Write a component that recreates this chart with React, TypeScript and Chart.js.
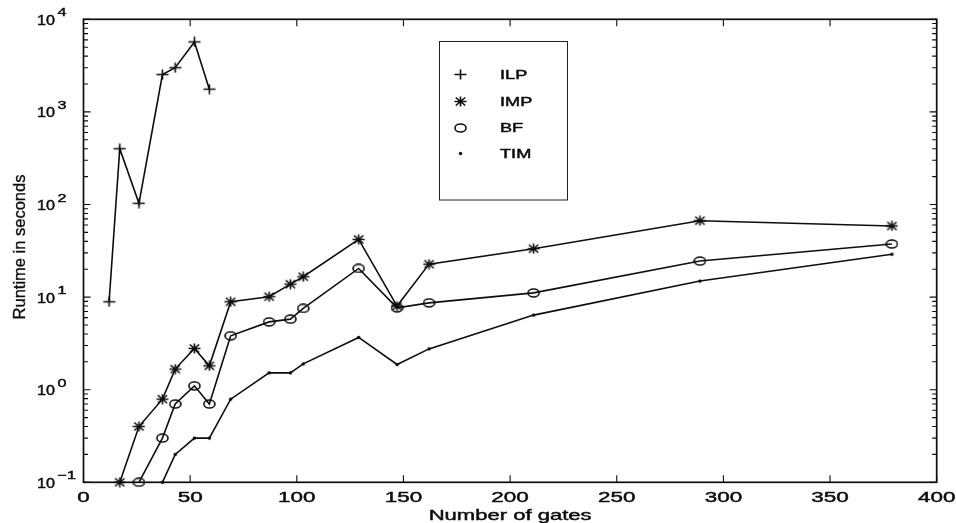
import React, { useEffect, useRef } from 'react';
import { Chart, registerables } from 'chart.js';

Chart.register(...registerables);

// ---- data ----
const ILP_GATES = [12, 17, 26, 37, 43, 52, 59];
const ILP_RUNTIME = [8.9, 400, 103, 2530, 3000, 5700, 1760];

const IMP_GATES = [17, 26, 37, 43, 52, 59, 69, 87, 97, 103, 129, 147, 162, 211, 289, 379];
const IMP_RUNTIME = [0.1, 0.4, 0.79, 1.67, 2.79, 1.81, 8.9, 10.1, 13.8, 16.6, 42, 8.0, 22.7, 33.3, 66.8, 58.6];

const BF_GATES = [26, 37, 43, 52, 59, 69, 87, 97, 103, 129, 147, 162, 211, 289, 379];
const BF_RUNTIME = [0.1, 0.3, 0.7, 1.1, 0.7, 3.82, 5.4, 5.78, 7.55, 20.4, 7.66, 8.67, 11.1, 24.5, 37.4];

const TIM_GATES = [37, 43, 52, 59, 69, 87, 97, 103, 129, 147, 162, 211, 289, 379];
const TIM_RUNTIME = [0.1, 0.2, 0.3, 0.3, 0.79, 1.52, 1.52, 1.9, 3.67, 1.87, 2.76, 6.39, 14.9, 29];

const SERIES_NAMES = ['ILP', 'IMP', 'BF', 'TIM'];
const X_TICKS = [0, 50, 100, 150, 200, 250, 300, 350, 400];
const Y_EXPONENTS = [-1, 0, 1, 2, 3, 4];
const X_TITLE = 'Number of gates';
const Y_TITLE = 'Runtime in seconds';

const INK = '#0d0d0d';
const FONT = '"Liberation Sans", Arial, Helvetica, sans-serif';

function makeMarker(kind: string): HTMLCanvasElement {
  const c = document.createElement('canvas');
  let w = 13, h = 11;
  if (kind === 'star') { w = 13; h = 11; }
  if (kind === 'ellipse') { w = 13; h = 10; }
  if (kind === 'dot') { w = 5; h = 5; }
  c.width = w; c.height = h;
  const g = c.getContext('2d') as CanvasRenderingContext2D;
  g.strokeStyle = INK; g.fillStyle = INK; g.lineWidth = 1.6;
  const cx = w / 2, cy = h / 2;
  g.beginPath();
  if (kind === 'cross' || kind === 'star') {
    g.moveTo(0.5, cy); g.lineTo(w - 0.5, cy);
    g.moveTo(cx, 0.5); g.lineTo(cx, h - 0.5);
    if (kind === 'star') {
      g.moveTo(1.8, 1.5); g.lineTo(w - 1.8, h - 1.5);
      g.moveTo(w - 1.8, 1.5); g.lineTo(1.8, h - 1.5);
    }
    g.stroke();
  } else if (kind === 'ellipse') {
    g.ellipse(cx, cy, w / 2 - 1, h / 2 - 1, 0, 0, Math.PI * 2);
    g.stroke();
  } else {
    g.arc(cx, cy, 1.7, 0, Math.PI * 2);
    g.fill();
  }
  return c;
}

function stretchText(ctx: CanvasRenderingContext2D, text: string, x: number, y: number, size: number, sx: number, align: CanvasTextAlign) {
  ctx.save();
  ctx.font = `${size}px ${FONT}`;
  ctx.translate(x, y);
  ctx.scale(sx, 1);
  ctx.textAlign = align;
  ctx.textBaseline = 'alphabetic';
  ctx.fillText(text, 0, 0);
  ctx.lineWidth = 0.45;
  ctx.strokeStyle = INK;
  ctx.strokeText(text, 0, 0);
  ctx.restore();
}

export default function App() {
  const ref = useRef<HTMLCanvasElement | null>(null);

  useEffect(() => {
    if (!ref.current) return;
    const markers = [makeMarker('cross'), makeMarker('star'), makeMarker('ellipse'), makeMarker('dot')];
    const xs = [ILP_GATES, IMP_GATES, BF_GATES, TIM_GATES];
    const ys = [ILP_RUNTIME, IMP_RUNTIME, BF_RUNTIME, TIM_RUNTIME];

    const datasets = SERIES_NAMES.map((name, i) => ({
      label: name,
      data: xs[i].map((x, j) => ({ x, y: ys[i][j] })),
      borderColor: INK,
      backgroundColor: INK,
      borderWidth: 1.6,
      pointStyle: markers[i] as any,
      pointRadius: 5,
      pointHoverRadius: 5,
      tension: 0,
      clip: false as any,
    }));

    const matlabAxes = {
      id: 'matlabAxes',
      afterDraw(chart: any) {
        const ctx: CanvasRenderingContext2D = chart.ctx;
        const { left, right, top, bottom } = chart.chartArea;
        const xS = chart.scales.x;
        const yS = chart.scales.y;
        ctx.save();
        ctx.strokeStyle = INK;
        ctx.fillStyle = INK;
        ctx.lineWidth = 1.7;
        ctx.strokeRect(left, top, right - left, bottom - top);
        ctx.lineWidth = 1.1;
        ctx.beginPath();
        for (const v of X_TICKS) {
          const px = xS.getPixelForValue(v);
          ctx.moveTo(px, bottom); ctx.lineTo(px, bottom - 7);
          ctx.moveTo(px, top); ctx.lineTo(px, top + 7);
        }
        for (const e of Y_EXPONENTS) {
          for (let m = 1; m <= 9; m++) {
            const v = m * Math.pow(10, e);
            if (v > yS.max * 1.0001) break;
            const py = yS.getPixelForValue(v);
            const len = m === 1 ? 7 : 4.5;
            ctx.moveTo(left, py); ctx.lineTo(left + len, py);
            ctx.moveTo(right, py); ctx.lineTo(right - len, py);
          }
        }
        ctx.stroke();

        // x tick labels
        for (const v of X_TICKS) {
          stretchText(ctx, String(v), xS.getPixelForValue(v), 501.5, 15.5, 1.45, 'center');
        }
        // y tick labels 10^e
        for (const e of Y_EXPONENTS) {
          const py = yS.getPixelForValue(Math.pow(10, e));
          stretchText(ctx, '10', 37, py + 5.4, 15, 1.08, 'left');
          const expText = e < 0 ? '\u2212' + String(-e) : String(e);
          stretchText(ctx, expText, 57.5, py - 3, 11.5, 1.4, 'left');
        }
        // axis titles
        stretchText(ctx, X_TITLE, (left + right) / 2, 519.5, 14.5, 1.52, 'center');
        ctx.save();
        ctx.translate(25, 247);
        ctx.rotate(-Math.PI / 2);
        ctx.font = `16.5px ${FONT}`;
        ctx.textAlign = 'center';
        ctx.textBaseline = 'alphabetic';
        ctx.fillText(Y_TITLE, 0, 0);
        ctx.lineWidth = 0.35;
        ctx.strokeText(Y_TITLE, 0, 0);
        ctx.restore();

        // legend
        ctx.lineWidth = 1;
        ctx.strokeStyle = '#222';
        ctx.strokeRect(439.5, 41.5, 128, 158.5);
        const rows = [74, 101.5, 127.5, 153.5];
        SERIES_NAMES.forEach((name, i) => {
          const mk = markers[i];
          ctx.drawImage(mk, Math.round(460 - mk.width / 2), Math.round(rows[i] - mk.height / 2));
          stretchText(ctx, name, 500, rows[i] + 4.6, 12.8, 1.42, 'left');
        });
        ctx.restore();
      },
    };

    const chart = new Chart(ref.current, {
      type: 'line',
      data: { datasets: datasets as any },
      options: {
        animation: false,
        responsive: false,
        devicePixelRatio: 1,
        layout: { padding: { left: 0, right: 19.3, top: 19.3, bottom: 0 } },
        plugins: { legend: { display: false }, tooltip: { enabled: false } },
        scales: {
          x: {
            type: 'linear',
            min: 0,
            max: 400,
            grid: { display: false },
            border: { display: false },
            ticks: { display: false, stepSize: 50 },
            afterFit: (s: any) => { s.height = 523 - 482.3; },
          },
          y: {
            type: 'logarithmic',
            min: 0.1,
            max: 10000,
            grid: { display: false },
            border: { display: false },
            ticks: { display: false },
            afterFit: (s: any) => { s.width = 83.5; },
          },
        },
      },
      plugins: [matlabAxes],
    });
    return () => chart.destroy();
  }, []);

  return (
    <div style={{ position: 'absolute', left: 0, top: 0, width: 956, height: 523, background: '#fff' }}>
      <canvas ref={ref} width={956} height={523} style={{ width: 956, height: 523, display: 'block' }} />
    </div>
  );
}
